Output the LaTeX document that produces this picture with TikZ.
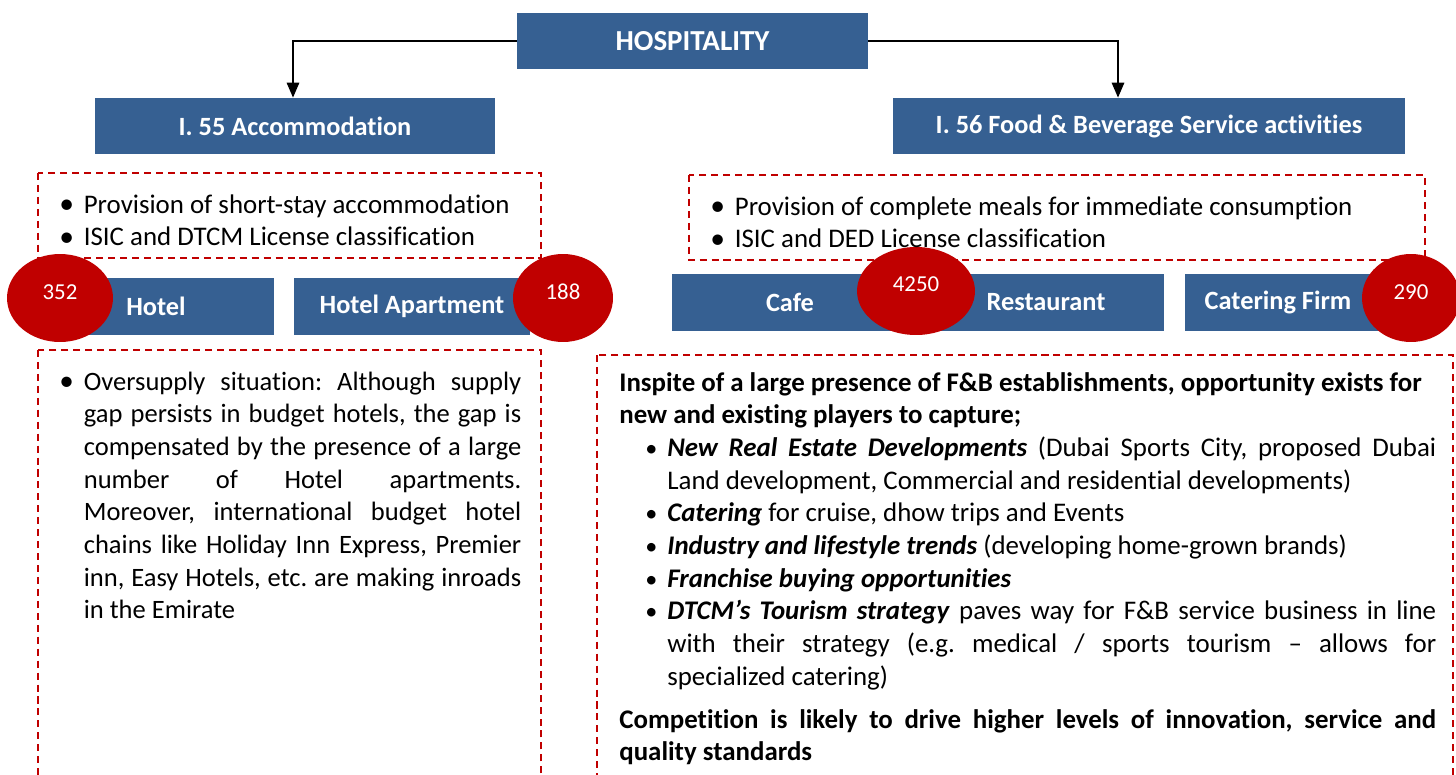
\documentclass[tikz,border=0pt]{standalone}
\usepackage{fontspec}
\setmainfont{Carlito}[Ligatures=NoCommon]
\usepackage{tikz}
\usetikzlibrary{arrows.meta}
\usetikzlibrary{shapes.geometric}

\definecolor{hblue}{RGB}{54,96,146}
\definecolor{hred}{RGB}{192,0,0}

% bullet paragraphs
\newcommand{\bigbul}[1]{\par\noindent\hangindent=0.49cm\hangafter=1\makebox[0.49cm][l]{\raisebox{-0.02em}{\scalebox{1.1}{\textbullet}}}\strut#1\par}
\newcommand{\smallbul}[1]{\par\noindent\hangindent=0.96cm\hangafter=1\hspace*{0.52cm}\makebox[0.44cm][l]{\scalebox{0.9}{\textbullet}}\strut#1\par}

\begin{document}
\begin{tikzpicture}[x=0.02cm,y=-0.02cm]
\tikzstyle{bluebox} = [rectangle, fill=hblue, text=white, inner sep=0pt, font=\bfseries\fontsize{15}{18}\selectfont]
\tikzstyle{num} = [ellipse, fill=hred, text=white, inner sep=0pt, minimum height=1.76cm, font=\fontsize{13}{15}\selectfont]
\tikzstyle{dbox} = [draw=hred, line width=1.1pt, dash pattern=on 4pt off 2.8pt]
\tikzstyle{txt} = [anchor=north west, inner sep=0pt, align=justify, font=\fontsize{15.3}{18.6}\selectfont]
\tikzstyle{edge} = [draw=black, line width=1.1pt, -{Triangle[width=7pt,length=8.5pt]}]

\useasboundingbox (0,0) rectangle (1456,774);
\clip (0,0) rectangle (1456,774);

% dashed frames
\draw[dbox] (38,173) rectangle (541,258);
\draw[dbox] (689,175) rectangle (1425,260);
\draw[dbox] (38,350) rectangle (541,800);
\draw[dbox] (597,355) rectangle (1453,800);

\node[bluebox, minimum width=7.02cm, minimum height=1.12cm, font=\bfseries\fontsize{16.5}{19}\selectfont] (HOS) at (692.5,41) {HOSPITALITY};
\node[bluebox, minimum width=8cm, minimum height=1.12cm] (ACC) at (295,126) {I. 55 Accommodation};
\node[bluebox, minimum width=10.24cm, minimum height=1.12cm] (FB) at (1149,126) {I. 56 Food \& Beverage Service activities};

\node[bluebox, minimum width=4.72cm, minimum height=1.14cm] (HOT) at (156,306.5) {Hotel};
\node[bluebox, minimum width=4.72cm, minimum height=1.14cm] (HAP) at (412,306.5) {Hotel Apartment};
\node[bluebox, minimum width=4.72cm, minimum height=1.14cm] (CAF) at (790,302.5) {Cafe};
\node[bluebox, minimum width=4.72cm, minimum height=1.14cm] (RES) at (1046,302.5) {Restaurant};
\node[bluebox, minimum width=4.72cm, minimum height=1.14cm] (CATB) at (1303,302.5) {};
\node[bluebox, fill=none] (CAT) at (1278,302.5) {Catering Firm};

\node[num, minimum width=2.12cm] (N352) at (60,298) {\raisebox{7pt}{352}};
\node[num, minimum width=2cm] (N188) at (563,298) {\raisebox{7pt}{188}};
\node[num, minimum width=2.36cm] (N4250) at (916,291) {\raisebox{7.5pt}{4250}};
\node[num, minimum width=1.96cm] (N290) at (1411,298) {\raisebox{7pt}{290}};

\draw[edge] (HOS.west) -| ([xshift=-0.04cm]ACC.north);
\draw[edge] (HOS.east) -| ([xshift=-0.62cm]FB.north);

\node[txt, text width=9.4cm] (T1) at (59,180) {\tolerance=10000\frenchspacing
\bigbul{Provision of short-stay accommodation}
\bigbul{ISIC and DTCM License classification}};

\node[txt, text width=14.4cm] (T2) at (710,182) {\tolerance=10000\frenchspacing
\bigbul{Provision of complete meals for immediate consumption}
\bigbul{ISIC and DED License classification}};

\node[txt, text width=9.24cm, font=\fontsize{15.1}{18.6}\selectfont] (T3) at (59,357) {\tolerance=10000\frenchspacing
\bigbul{Oversupply situation: Although supply\linebreak gap persists in budget hotels, the gap is\linebreak compensated by the presence of a large\linebreak number of Hotel apartments.\linebreak Moreover, international budget hotel\linebreak chains like Holiday Inn Express, Premier\linebreak inn, Easy Hotels, etc. are making inroads\linebreak in the Emirate}};

\node[txt, text width=16.34cm] (T4) at (619,368) {\tolerance=10000\frenchspacing
\noindent\strut\textbf{Inspite of a large presence of F\&B establishments, opportunity exists for\newline new and existing players to capture;}\par
\smallbul{\textbf{\textit{New Real Estate Developments}} (Dubai Sports City, proposed Dubai\linebreak Land development, Commercial and residential developments)}
\smallbul{\textbf{\textit{Catering}} for cruise, dhow trips and Events}
\smallbul{\textbf{\textit{Industry and lifestyle trends}} (developing home-grown brands)}
\smallbul{\textbf{\textit{Franchise buying opportunities}}}
\smallbul{\textbf{\textit{DTCM’s Tourism strategy}} paves way for F\&B service business in line\linebreak with their strategy (e.g. medical / sports tourism – allows for\linebreak specialized catering)}
\vspace{5.7pt}
\noindent\textbf{Competition is likely to drive higher levels of innovation, service and\linebreak quality standards}\par};
\end{tikzpicture}
\end{document}
